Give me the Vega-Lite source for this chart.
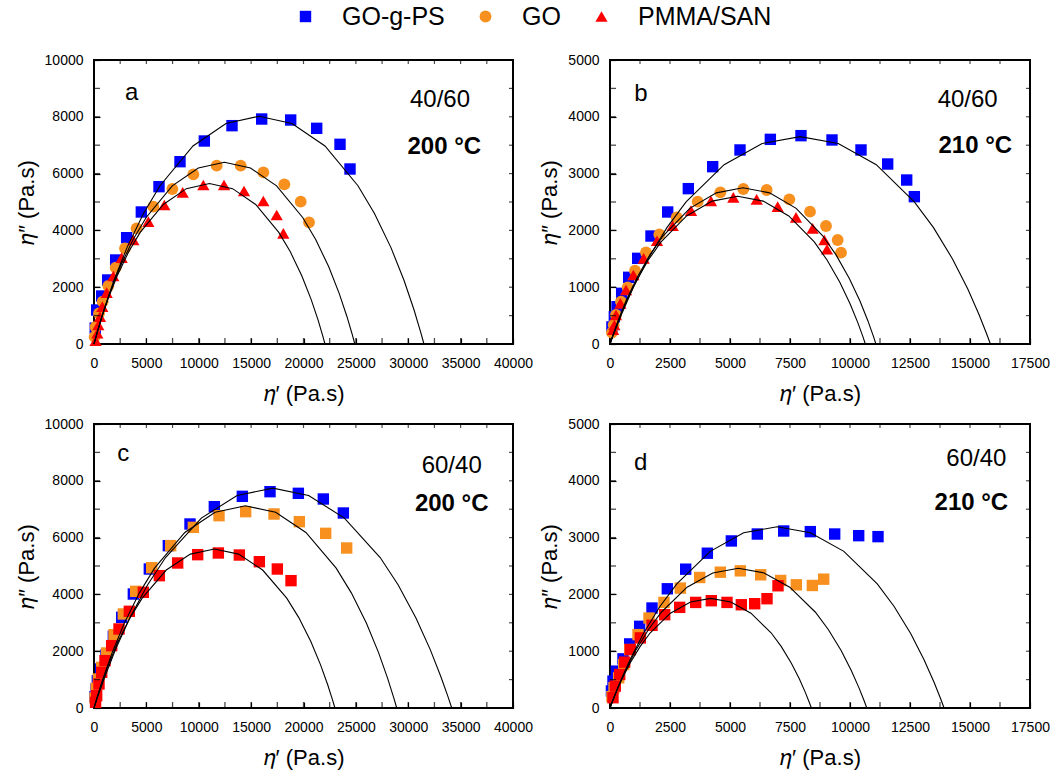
{
  "$schema": "https://vega.github.io/schema/vega-lite/v6.json",
  "autosize": {"type": "pad"},
  "padding": {"left": 14, "top": 4, "right": 5, "bottom": 5},
  "background": "white",
  "datasets": {
    "pts": [
      {"p":"a","s":"GO-g-PS","x":120,"y":560},{"p":"a","s":"GO-g-PS","x":255,"y":1197},{"p":"a","s":"GO-g-PS","x":733,"y":1690},{"p":"a","s":"GO-g-PS","x":1305,"y":2254},{"p":"a","s":"GO-g-PS","x":2068,"y":2958},{"p":"a","s":"GO-g-PS","x":3118,"y":3744},{"p":"a","s":"GO-g-PS","x":4518,"y":4648},{"p":"a","s":"GO-g-PS","x":6206,"y":5540},{"p":"a","s":"GO-g-PS","x":8210,"y":6420},{"p":"a","s":"GO-g-PS","x":10533,"y":7148},{"p":"a","s":"GO-g-PS","x":13175,"y":7688},{"p":"a","s":"GO-g-PS","x":16008,"y":7922},{"p":"a","s":"GO-g-PS","x":18776,"y":7887},{"p":"a","s":"GO-g-PS","x":21259,"y":7594},{"p":"a","s":"GO-g-PS","x":23486,"y":7031},{"p":"a","s":"GO-g-PS","x":24440,"y":6162},
      {"p":"a","s":"GO","x":60,"y":250},{"p":"a","s":"GO","x":153,"y":600},{"p":"a","s":"GO","x":477,"y":1080},{"p":"a","s":"GO","x":827,"y":1491},{"p":"a","s":"GO","x":1368,"y":2042},{"p":"a","s":"GO","x":2068,"y":2688},{"p":"a","s":"GO","x":2960,"y":3369},{"p":"a","s":"GO","x":4073,"y":4073},{"p":"a","s":"GO","x":5665,"y":4836},{"p":"a","s":"GO","x":7478,"y":5458},{"p":"a","s":"GO","x":9483,"y":5974},{"p":"a","s":"GO","x":11711,"y":6279},{"p":"a","s":"GO","x":14003,"y":6279},{"p":"a","s":"GO","x":16166,"y":6045},{"p":"a","s":"GO","x":18172,"y":5622},{"p":"a","s":"GO","x":19731,"y":5012},{"p":"a","s":"GO","x":20526,"y":4284},
      {"p":"a","s":"PMMA/SAN","x":150,"y":120},{"p":"a","s":"PMMA/SAN","x":318,"y":376},{"p":"a","s":"PMMA/SAN","x":414,"y":669},{"p":"a","s":"PMMA/SAN","x":573,"y":963},{"p":"a","s":"PMMA/SAN","x":795,"y":1315},{"p":"a","s":"PMMA/SAN","x":1209,"y":1808},{"p":"a","s":"PMMA/SAN","x":1846,"y":2394},{"p":"a","s":"PMMA/SAN","x":2641,"y":3040},{"p":"a","s":"PMMA/SAN","x":3755,"y":3662},{"p":"a","s":"PMMA/SAN","x":5188,"y":4308},{"p":"a","s":"PMMA/SAN","x":6714,"y":4894},{"p":"a","s":"PMMA/SAN","x":8465,"y":5340},{"p":"a","s":"PMMA/SAN","x":10437,"y":5599},{"p":"a","s":"PMMA/SAN","x":12411,"y":5599},{"p":"a","s":"PMMA/SAN","x":14320,"y":5387},{"p":"a","s":"PMMA/SAN","x":16166,"y":5035},{"p":"a","s":"PMMA/SAN","x":17440,"y":4542},{"p":"a","s":"PMMA/SAN","x":18075,"y":3897},
      {"p":"b","s":"GO-g-PS","x":80,"y":300},{"p":"b","s":"GO-g-PS","x":181,"y":481},{"p":"b","s":"GO-g-PS","x":292,"y":657},{"p":"b","s":"GO-g-PS","x":486,"y":892},{"p":"b","s":"GO-g-PS","x":778,"y":1174},{"p":"b","s":"GO-g-PS","x":1153,"y":1508},{"p":"b","s":"GO-g-PS","x":1708,"y":1901},{"p":"b","s":"GO-g-PS","x":2403,"y":2324},{"p":"b","s":"GO-g-PS","x":3264,"y":2735},{"p":"b","s":"GO-g-PS","x":4278,"y":3122},{"p":"b","s":"GO-g-PS","x":5417,"y":3416},{"p":"b","s":"GO-g-PS","x":6681,"y":3603},{"p":"b","s":"GO-g-PS","x":7958,"y":3668},{"p":"b","s":"GO-g-PS","x":9250,"y":3592},{"p":"b","s":"GO-g-PS","x":10458,"y":3416},{"p":"b","s":"GO-g-PS","x":11570,"y":3169},{"p":"b","s":"GO-g-PS","x":12362,"y":2887},{"p":"b","s":"GO-g-PS","x":12681,"y":2594},
      {"p":"b","s":"GO","x":80,"y":200},{"p":"b","s":"GO","x":153,"y":334},{"p":"b","s":"GO","x":250,"y":511},{"p":"b","s":"GO","x":458,"y":745},{"p":"b","s":"GO","x":736,"y":998},{"p":"b","s":"GO","x":1042,"y":1291},{"p":"b","s":"GO","x":1500,"y":1614},{"p":"b","s":"GO","x":2056,"y":1931},{"p":"b","s":"GO","x":2778,"y":2230},{"p":"b","s":"GO","x":3653,"y":2506},{"p":"b","s":"GO","x":4597,"y":2670},{"p":"b","s":"GO","x":5556,"y":2729},{"p":"b","s":"GO","x":6528,"y":2711},{"p":"b","s":"GO","x":7472,"y":2547},{"p":"b","s":"GO","x":8333,"y":2330},{"p":"b","s":"GO","x":9000,"y":2078},{"p":"b","s":"GO","x":9486,"y":1831},{"p":"b","s":"GO","x":9625,"y":1608},
      {"p":"b","s":"PMMA/SAN","x":130,"y":250},{"p":"b","s":"PMMA/SAN","x":181,"y":334},{"p":"b","s":"PMMA/SAN","x":250,"y":511},{"p":"b","s":"PMMA/SAN","x":431,"y":716},{"p":"b","s":"PMMA/SAN","x":667,"y":951},{"p":"b","s":"PMMA/SAN","x":972,"y":1215},{"p":"b","s":"PMMA/SAN","x":1403,"y":1508},{"p":"b","s":"PMMA/SAN","x":1958,"y":1819},{"p":"b","s":"PMMA/SAN","x":2611,"y":2083},{"p":"b","s":"PMMA/SAN","x":3375,"y":2348},{"p":"b","s":"PMMA/SAN","x":4208,"y":2518},{"p":"b","s":"PMMA/SAN","x":5139,"y":2582},{"p":"b","s":"PMMA/SAN","x":6111,"y":2547},{"p":"b","s":"PMMA/SAN","x":6986,"y":2418},{"p":"b","s":"PMMA/SAN","x":7750,"y":2230},{"p":"b","s":"PMMA/SAN","x":8444,"y":2036},{"p":"b","s":"PMMA/SAN","x":8931,"y":1831},{"p":"b","s":"PMMA/SAN","x":9042,"y":1667},
      {"p":"c","s":"GO-g-PS","x":100,"y":400},{"p":"c","s":"GO-g-PS","x":200,"y":669},{"p":"c","s":"GO-g-PS","x":318,"y":962},{"p":"c","s":"GO-g-PS","x":636,"y":1373},{"p":"c","s":"GO-g-PS","x":1146,"y":1866},{"p":"c","s":"GO-g-PS","x":1846,"y":2523},{"p":"c","s":"GO-g-PS","x":2641,"y":3193},{"p":"c","s":"GO-g-PS","x":3755,"y":4014},{"p":"c","s":"GO-g-PS","x":5282,"y":4894},{"p":"c","s":"GO-g-PS","x":7097,"y":5716},{"p":"c","s":"GO-g-PS","x":9165,"y":6479},{"p":"c","s":"GO-g-PS","x":11489,"y":7089},{"p":"c","s":"GO-g-PS","x":14161,"y":7453},{"p":"c","s":"GO-g-PS","x":16803,"y":7617},{"p":"c","s":"GO-g-PS","x":19508,"y":7559},{"p":"c","s":"GO-g-PS","x":21894,"y":7359},{"p":"c","s":"GO-g-PS","x":23804,"y":6866},
      {"p":"c","s":"GO","x":100,"y":350},{"p":"c","s":"GO","x":220,"y":692},{"p":"c","s":"GO","x":414,"y":1021},{"p":"c","s":"GO","x":733,"y":1432},{"p":"c","s":"GO","x":1209,"y":1937},{"p":"c","s":"GO","x":1909,"y":2582},{"p":"c","s":"GO","x":2800,"y":3310},{"p":"c","s":"GO","x":3978,"y":4108},{"p":"c","s":"GO","x":5506,"y":4941},{"p":"c","s":"GO","x":7319,"y":5716},{"p":"c","s":"GO","x":9483,"y":6361},{"p":"c","s":"GO","x":11934,"y":6772},{"p":"c","s":"GO","x":14479,"y":6913},{"p":"c","s":"GO","x":17185,"y":6831},{"p":"c","s":"GO","x":19603,"y":6561},{"p":"c","s":"GO","x":22118,"y":6150},{"p":"c","s":"GO","x":24122,"y":5634},
      {"p":"c","s":"PMMA/SAN","x":150,"y":200},{"p":"c","s":"PMMA/SAN","x":255,"y":434},{"p":"c","s":"PMMA/SAN","x":477,"y":845},{"p":"c","s":"PMMA/SAN","x":733,"y":1256},{"p":"c","s":"PMMA/SAN","x":1050,"y":1667},{"p":"c","s":"PMMA/SAN","x":1686,"y":2195},{"p":"c","s":"PMMA/SAN","x":2387,"y":2782},{"p":"c","s":"PMMA/SAN","x":3373,"y":3404},{"p":"c","s":"PMMA/SAN","x":4709,"y":4073},{"p":"c","s":"PMMA/SAN","x":6238,"y":4660},{"p":"c","s":"PMMA/SAN","x":7987,"y":5106},{"p":"c","s":"PMMA/SAN","x":9897,"y":5399},{"p":"c","s":"PMMA/SAN","x":11871,"y":5458},{"p":"c","s":"PMMA/SAN","x":13875,"y":5387},{"p":"c","s":"PMMA/SAN","x":15785,"y":5152},{"p":"c","s":"PMMA/SAN","x":17502,"y":4894},{"p":"c","s":"PMMA/SAN","x":18807,"y":4484},
      {"p":"d","s":"GO-g-PS","x":60,"y":300},{"p":"d","s":"GO-g-PS","x":125,"y":474},{"p":"d","s":"GO-g-PS","x":264,"y":649},{"p":"d","s":"GO-g-PS","x":542,"y":865},{"p":"d","s":"GO-g-PS","x":820,"y":1128},{"p":"d","s":"GO-g-PS","x":1236,"y":1438},{"p":"d","s":"GO-g-PS","x":1750,"y":1760},{"p":"d","s":"GO-g-PS","x":2389,"y":2099},{"p":"d","s":"GO-g-PS","x":3153,"y":2444},{"p":"d","s":"GO-g-PS","x":4056,"y":2725},{"p":"d","s":"GO-g-PS","x":5056,"y":2941},{"p":"d","s":"GO-g-PS","x":6139,"y":3063},{"p":"d","s":"GO-g-PS","x":7237,"y":3116},{"p":"d","s":"GO-g-PS","x":8347,"y":3105},{"p":"d","s":"GO-g-PS","x":9362,"y":3063},{"p":"d","s":"GO-g-PS","x":10362,"y":3034},{"p":"d","s":"GO-g-PS","x":11167,"y":3017},
      {"p":"d","s":"GO","x":80,"y":200},{"p":"d","s":"GO","x":167,"y":357},{"p":"d","s":"GO","x":361,"y":532},{"p":"d","s":"GO","x":570,"y":766},{"p":"d","s":"GO","x":820,"y":1029},{"p":"d","s":"GO","x":1167,"y":1292},{"p":"d","s":"GO","x":1625,"y":1584},{"p":"d","s":"GO","x":2250,"y":1859},{"p":"d","s":"GO","x":2931,"y":2111},{"p":"d","s":"GO","x":3736,"y":2298},{"p":"d","s":"GO","x":4597,"y":2391},{"p":"d","s":"GO","x":5431,"y":2415},{"p":"d","s":"GO","x":6278,"y":2345},{"p":"d","s":"GO","x":7112,"y":2245},{"p":"d","s":"GO","x":7764,"y":2169},{"p":"d","s":"GO","x":8431,"y":2157},{"p":"d","s":"GO","x":8903,"y":2268},
      {"p":"d","s":"PMMA/SAN","x":125,"y":181},{"p":"d","s":"PMMA/SAN","x":222,"y":386},{"p":"d","s":"PMMA/SAN","x":403,"y":590},{"p":"d","s":"PMMA/SAN","x":611,"y":807},{"p":"d","s":"PMMA/SAN","x":847,"y":1029},{"p":"d","s":"PMMA/SAN","x":1264,"y":1234},{"p":"d","s":"PMMA/SAN","x":1750,"y":1456},{"p":"d","s":"PMMA/SAN","x":2278,"y":1643},{"p":"d","s":"PMMA/SAN","x":2903,"y":1772},{"p":"d","s":"PMMA/SAN","x":3570,"y":1859},{"p":"d","s":"PMMA/SAN","x":4222,"y":1889},{"p":"d","s":"PMMA/SAN","x":4875,"y":1859},{"p":"d","s":"PMMA/SAN","x":5472,"y":1818},{"p":"d","s":"PMMA/SAN","x":6028,"y":1836},{"p":"d","s":"PMMA/SAN","x":6542,"y":1924},{"p":"d","s":"PMMA/SAN","x":7000,"y":2152}
    ],
    "fit": [
      {"p":"a","s":"GO-g-PS","x":0,"y":0},{"p":"a","s":"GO-g-PS","x":315,"y":420},{"p":"a","s":"GO-g-PS","x":945,"y":1197},{"p":"a","s":"GO-g-PS","x":1890,"y":2225},{"p":"a","s":"GO-g-PS","x":3150,"y":3394},{"p":"a","s":"GO-g-PS","x":4725,"y":4599},{"p":"a","s":"GO-g-PS","x":6300,"y":5574},{"p":"a","s":"GO-g-PS","x":9450,"y":6973},{"p":"a","s":"GO-g-PS","x":12600,"y":7763},{"p":"a","s":"GO-g-PS","x":15750,"y":8020},{"p":"a","s":"GO-g-PS","x":18900,"y":7763},{"p":"a","s":"GO-g-PS","x":22050,"y":6973},{"p":"a","s":"GO-g-PS","x":25200,"y":5574},{"p":"a","s":"GO-g-PS","x":26775,"y":4599},{"p":"a","s":"GO-g-PS","x":28350,"y":3394},{"p":"a","s":"GO-g-PS","x":29610,"y":2225},{"p":"a","s":"GO-g-PS","x":30555,"y":1197},{"p":"a","s":"GO-g-PS","x":31185,"y":420},{"p":"a","s":"GO-g-PS","x":31500,"y":0},
      {"p":"a","s":"GO","x":0,"y":0},{"p":"a","s":"GO","x":249,"y":337},{"p":"a","s":"GO","x":747,"y":961},{"p":"a","s":"GO","x":1494,"y":1784},{"p":"a","s":"GO","x":2490,"y":2718},{"p":"a","s":"GO","x":3735,"y":3678},{"p":"a","s":"GO","x":4980,"y":4455},{"p":"a","s":"GO","x":7470,"y":5568},{"p":"a","s":"GO","x":9960,"y":6196},{"p":"a","s":"GO","x":12450,"y":6400},{"p":"a","s":"GO","x":14940,"y":6196},{"p":"a","s":"GO","x":17430,"y":5568},{"p":"a","s":"GO","x":19920,"y":4455},{"p":"a","s":"GO","x":21165,"y":3678},{"p":"a","s":"GO","x":22410,"y":2718},{"p":"a","s":"GO","x":23406,"y":1784},{"p":"a","s":"GO","x":24153,"y":961},{"p":"a","s":"GO","x":24651,"y":337},{"p":"a","s":"GO","x":24900,"y":0},
      {"p":"a","s":"PMMA/SAN","x":0,"y":0},{"p":"a","s":"PMMA/SAN","x":220,"y":298},{"p":"a","s":"PMMA/SAN","x":662,"y":847},{"p":"a","s":"PMMA/SAN","x":1323,"y":1572},{"p":"a","s":"PMMA/SAN","x":2205,"y":2396},{"p":"a","s":"PMMA/SAN","x":3308,"y":3245},{"p":"a","s":"PMMA/SAN","x":4410,"y":3930},{"p":"a","s":"PMMA/SAN","x":6615,"y":4914},{"p":"a","s":"PMMA/SAN","x":8820,"y":5470},{"p":"a","s":"PMMA/SAN","x":11025,"y":5650},{"p":"a","s":"PMMA/SAN","x":13230,"y":5470},{"p":"a","s":"PMMA/SAN","x":15435,"y":4914},{"p":"a","s":"PMMA/SAN","x":17640,"y":3930},{"p":"a","s":"PMMA/SAN","x":18743,"y":3245},{"p":"a","s":"PMMA/SAN","x":19845,"y":2396},{"p":"a","s":"PMMA/SAN","x":20727,"y":1572},{"p":"a","s":"PMMA/SAN","x":21389,"y":847},{"p":"a","s":"PMMA/SAN","x":21830,"y":298},{"p":"a","s":"PMMA/SAN","x":22050,"y":0},
      {"p":"b","s":"GO-g-PS","x":0,"y":0},{"p":"b","s":"GO-g-PS","x":159,"y":181},{"p":"b","s":"GO-g-PS","x":476,"y":520},{"p":"b","s":"GO-g-PS","x":951,"y":976},{"p":"b","s":"GO-g-PS","x":1585,"y":1502},{"p":"b","s":"GO-g-PS","x":2378,"y":2053},{"p":"b","s":"GO-g-PS","x":3170,"y":2503},{"p":"b","s":"GO-g-PS","x":4755,"y":3157},{"p":"b","s":"GO-g-PS","x":6340,"y":3529},{"p":"b","s":"GO-g-PS","x":7925,"y":3650},{"p":"b","s":"GO-g-PS","x":9510,"y":3529},{"p":"b","s":"GO-g-PS","x":11095,"y":3157},{"p":"b","s":"GO-g-PS","x":12680,"y":2503},{"p":"b","s":"GO-g-PS","x":13473,"y":2053},{"p":"b","s":"GO-g-PS","x":14265,"y":1502},{"p":"b","s":"GO-g-PS","x":14899,"y":976},{"p":"b","s":"GO-g-PS","x":15375,"y":520},{"p":"b","s":"GO-g-PS","x":15692,"y":181},{"p":"b","s":"GO-g-PS","x":15850,"y":0},
      {"p":"b","s":"GO","x":0,"y":0},{"p":"b","s":"GO","x":111,"y":142},{"p":"b","s":"GO","x":332,"y":406},{"p":"b","s":"GO","x":665,"y":756},{"p":"b","s":"GO","x":1108,"y":1155},{"p":"b","s":"GO","x":1662,"y":1569},{"p":"b","s":"GO","x":2216,"y":1905},{"p":"b","s":"GO","x":3324,"y":2388},{"p":"b","s":"GO","x":4432,"y":2661},{"p":"b","s":"GO","x":5540,"y":2750},{"p":"b","s":"GO","x":6648,"y":2661},{"p":"b","s":"GO","x":7756,"y":2388},{"p":"b","s":"GO","x":8864,"y":1905},{"p":"b","s":"GO","x":9418,"y":1569},{"p":"b","s":"GO","x":9972,"y":1155},{"p":"b","s":"GO","x":10415,"y":756},{"p":"b","s":"GO","x":10748,"y":406},{"p":"b","s":"GO","x":10969,"y":142},{"p":"b","s":"GO","x":11080,"y":0},
      {"p":"b","s":"PMMA/SAN","x":0,"y":0},{"p":"b","s":"PMMA/SAN","x":106,"y":134},{"p":"b","s":"PMMA/SAN","x":319,"y":380},{"p":"b","s":"PMMA/SAN","x":638,"y":710},{"p":"b","s":"PMMA/SAN","x":1064,"y":1087},{"p":"b","s":"PMMA/SAN","x":1596,"y":1478},{"p":"b","s":"PMMA/SAN","x":2128,"y":1797},{"p":"b","s":"PMMA/SAN","x":3192,"y":2255},{"p":"b","s":"PMMA/SAN","x":4256,"y":2515},{"p":"b","s":"PMMA/SAN","x":5320,"y":2600},{"p":"b","s":"PMMA/SAN","x":6384,"y":2515},{"p":"b","s":"PMMA/SAN","x":7448,"y":2255},{"p":"b","s":"PMMA/SAN","x":8512,"y":1797},{"p":"b","s":"PMMA/SAN","x":9044,"y":1478},{"p":"b","s":"PMMA/SAN","x":9576,"y":1087},{"p":"b","s":"PMMA/SAN","x":10002,"y":710},{"p":"b","s":"PMMA/SAN","x":10321,"y":380},{"p":"b","s":"PMMA/SAN","x":10534,"y":134},{"p":"b","s":"PMMA/SAN","x":10640,"y":0},
      {"p":"c","s":"GO-g-PS","x":0,"y":0},{"p":"c","s":"GO-g-PS","x":342,"y":381},{"p":"c","s":"GO-g-PS","x":1025,"y":1093},{"p":"c","s":"GO-g-PS","x":2049,"y":2056},{"p":"c","s":"GO-g-PS","x":3415,"y":3171},{"p":"c","s":"GO-g-PS","x":5123,"y":4339},{"p":"c","s":"GO-g-PS","x":6830,"y":5297},{"p":"c","s":"GO-g-PS","x":10245,"y":6688},{"p":"c","s":"GO-g-PS","x":13660,"y":7482},{"p":"c","s":"GO-g-PS","x":17075,"y":7740},{"p":"c","s":"GO-g-PS","x":20490,"y":7482},{"p":"c","s":"GO-g-PS","x":23905,"y":6688},{"p":"c","s":"GO-g-PS","x":27320,"y":5297},{"p":"c","s":"GO-g-PS","x":29028,"y":4339},{"p":"c","s":"GO-g-PS","x":30735,"y":3171},{"p":"c","s":"GO-g-PS","x":32101,"y":2056},{"p":"c","s":"GO-g-PS","x":33126,"y":1093},{"p":"c","s":"GO-g-PS","x":33809,"y":381},{"p":"c","s":"GO-g-PS","x":34150,"y":0},
      {"p":"c","s":"GO","x":0,"y":0},{"p":"c","s":"GO","x":289,"y":366},{"p":"c","s":"GO","x":867,"y":1045},{"p":"c","s":"GO","x":1734,"y":1949},{"p":"c","s":"GO","x":2890,"y":2984},{"p":"c","s":"GO","x":4335,"y":4055},{"p":"c","s":"GO","x":5780,"y":4925},{"p":"c","s":"GO","x":8670,"y":6179},{"p":"c","s":"GO","x":11560,"y":6890},{"p":"c","s":"GO","x":14450,"y":7120},{"p":"c","s":"GO","x":17340,"y":6890},{"p":"c","s":"GO","x":20230,"y":6179},{"p":"c","s":"GO","x":23120,"y":4925},{"p":"c","s":"GO","x":24565,"y":4055},{"p":"c","s":"GO","x":26010,"y":2984},{"p":"c","s":"GO","x":27166,"y":1949},{"p":"c","s":"GO","x":28033,"y":1045},{"p":"c","s":"GO","x":28611,"y":366},{"p":"c","s":"GO","x":28900,"y":0},
      {"p":"c","s":"PMMA/SAN","x":0,"y":0},{"p":"c","s":"PMMA/SAN","x":230,"y":288},{"p":"c","s":"PMMA/SAN","x":690,"y":819},{"p":"c","s":"PMMA/SAN","x":1380,"y":1527},{"p":"c","s":"PMMA/SAN","x":2300,"y":2340},{"p":"c","s":"PMMA/SAN","x":3450,"y":3183},{"p":"c","s":"PMMA/SAN","x":4600,"y":3869},{"p":"c","s":"PMMA/SAN","x":6900,"y":4858},{"p":"c","s":"PMMA/SAN","x":9200,"y":5419},{"p":"c","s":"PMMA/SAN","x":11500,"y":5600},{"p":"c","s":"PMMA/SAN","x":13800,"y":5419},{"p":"c","s":"PMMA/SAN","x":16100,"y":4858},{"p":"c","s":"PMMA/SAN","x":18400,"y":3869},{"p":"c","s":"PMMA/SAN","x":19550,"y":3183},{"p":"c","s":"PMMA/SAN","x":20700,"y":2340},{"p":"c","s":"PMMA/SAN","x":21620,"y":1527},{"p":"c","s":"PMMA/SAN","x":22310,"y":819},{"p":"c","s":"PMMA/SAN","x":22770,"y":288},{"p":"c","s":"PMMA/SAN","x":23000,"y":0},
      {"p":"d","s":"GO-g-PS","x":0,"y":0},{"p":"d","s":"GO-g-PS","x":139,"y":158},{"p":"d","s":"GO-g-PS","x":418,"y":453},{"p":"d","s":"GO-g-PS","x":835,"y":851},{"p":"d","s":"GO-g-PS","x":1392,"y":1311},{"p":"d","s":"GO-g-PS","x":2088,"y":1792},{"p":"d","s":"GO-g-PS","x":2784,"y":2186},{"p":"d","s":"GO-g-PS","x":4176,"y":2758},{"p":"d","s":"GO-g-PS","x":5568,"y":3084},{"p":"d","s":"GO-g-PS","x":6960,"y":3190},{"p":"d","s":"GO-g-PS","x":8352,"y":3084},{"p":"d","s":"GO-g-PS","x":9744,"y":2758},{"p":"d","s":"GO-g-PS","x":11136,"y":2186},{"p":"d","s":"GO-g-PS","x":11832,"y":1792},{"p":"d","s":"GO-g-PS","x":12528,"y":1311},{"p":"d","s":"GO-g-PS","x":13085,"y":851},{"p":"d","s":"GO-g-PS","x":13502,"y":453},{"p":"d","s":"GO-g-PS","x":13781,"y":158},{"p":"d","s":"GO-g-PS","x":13920,"y":0},
      {"p":"d","s":"GO","x":0,"y":0},{"p":"d","s":"GO","x":107,"y":122},{"p":"d","s":"GO","x":321,"y":350},{"p":"d","s":"GO","x":642,"y":657},{"p":"d","s":"GO","x":1070,"y":1012},{"p":"d","s":"GO","x":1605,"y":1382},{"p":"d","s":"GO","x":2140,"y":1686},{"p":"d","s":"GO","x":3210,"y":2127},{"p":"d","s":"GO","x":4280,"y":2378},{"p":"d","s":"GO","x":5350,"y":2460},{"p":"d","s":"GO","x":6420,"y":2378},{"p":"d","s":"GO","x":7490,"y":2127},{"p":"d","s":"GO","x":8560,"y":1686},{"p":"d","s":"GO","x":9095,"y":1382},{"p":"d","s":"GO","x":9630,"y":1012},{"p":"d","s":"GO","x":10058,"y":657},{"p":"d","s":"GO","x":10379,"y":350},{"p":"d","s":"GO","x":10593,"y":122},{"p":"d","s":"GO","x":10700,"y":0},
      {"p":"d","s":"PMMA/SAN","x":0,"y":0},{"p":"d","s":"PMMA/SAN","x":84,"y":96},{"p":"d","s":"PMMA/SAN","x":252,"y":275},{"p":"d","s":"PMMA/SAN","x":503,"y":516},{"p":"d","s":"PMMA/SAN","x":839,"y":794},{"p":"d","s":"PMMA/SAN","x":1259,"y":1085},{"p":"d","s":"PMMA/SAN","x":1678,"y":1324},{"p":"d","s":"PMMA/SAN","x":2517,"y":1669},{"p":"d","s":"PMMA/SAN","x":3356,"y":1866},{"p":"d","s":"PMMA/SAN","x":4195,"y":1930},{"p":"d","s":"PMMA/SAN","x":5034,"y":1866},{"p":"d","s":"PMMA/SAN","x":5873,"y":1669},{"p":"d","s":"PMMA/SAN","x":6712,"y":1324},{"p":"d","s":"PMMA/SAN","x":7132,"y":1085},{"p":"d","s":"PMMA/SAN","x":7551,"y":794},{"p":"d","s":"PMMA/SAN","x":7887,"y":516},{"p":"d","s":"PMMA/SAN","x":8138,"y":275},{"p":"d","s":"PMMA/SAN","x":8306,"y":96},{"p":"d","s":"PMMA/SAN","x":8390,"y":0}
    ],
    "ann": [
      {"p":"a","k":"id","t":"a","x":3600,"y":8827},{"p":"a","k":"ratio","t":"40/60","x":33032,"y":8591},{"p":"a","k":"temp","t":"200 °C","x":33443,"y":6947},
      {"p":"b","k":"id","t":"b","x":1292,"y":4396},{"p":"b","k":"ratio","t":"40/60","x":14903,"y":4296},{"p":"b","k":"temp","t":"210 °C","x":15222,"y":3492},
      {"p":"c","k":"id","t":"c","x":2800,"y":8943},{"p":"c","k":"ratio","t":"60/40","x":34148,"y":8532},{"p":"c","k":"temp","t":"200 °C","x":34148,"y":7183},
      {"p":"d","k":"id","t":"d","x":1278,"y":4315},{"p":"d","k":"ratio","t":"60/40","x":15265,"y":4379},{"p":"d","k":"temp","t":"210 °C","x":15057,"y":3602}
    ],
    "tk": [
      {"g":"w","ax":"x","v":2500},{"g":"w","ax":"x","v":5000},{"g":"w","ax":"x","v":7500},{"g":"w","ax":"x","v":10000},{"g":"w","ax":"x","v":12500},{"g":"w","ax":"x","v":15000},{"g":"w","ax":"x","v":17500},{"g":"w","ax":"x","v":20000},{"g":"w","ax":"x","v":22500},{"g":"w","ax":"x","v":25000},{"g":"w","ax":"x","v":27500},{"g":"w","ax":"x","v":30000},{"g":"w","ax":"x","v":32500},{"g":"w","ax":"x","v":35000},{"g":"w","ax":"x","v":37500},
      {"g":"w","ax":"y","v":1000},{"g":"w","ax":"y","v":2000},{"g":"w","ax":"y","v":3000},{"g":"w","ax":"y","v":4000},{"g":"w","ax":"y","v":5000},{"g":"w","ax":"y","v":6000},{"g":"w","ax":"y","v":7000},{"g":"w","ax":"y","v":8000},{"g":"w","ax":"y","v":9000},
      {"g":"n","ax":"x","v":1250},{"g":"n","ax":"x","v":2500},{"g":"n","ax":"x","v":3750},{"g":"n","ax":"x","v":5000},{"g":"n","ax":"x","v":6250},{"g":"n","ax":"x","v":7500},{"g":"n","ax":"x","v":8750},{"g":"n","ax":"x","v":10000},{"g":"n","ax":"x","v":11250},{"g":"n","ax":"x","v":12500},{"g":"n","ax":"x","v":13750},{"g":"n","ax":"x","v":15000},{"g":"n","ax":"x","v":16250},
      {"g":"n","ax":"y","v":500},{"g":"n","ax":"y","v":1000},{"g":"n","ax":"y","v":1500},{"g":"n","ax":"y","v":2000},{"g":"n","ax":"y","v":2500},{"g":"n","ax":"y","v":3000},{"g":"n","ax":"y","v":3500},{"g":"n","ax":"y","v":4000},{"g":"n","ax":"y","v":4500}
    ]
  },
  "columns": 2,
  "spacing": {"row": 11, "column": 3},
  "concat": [
    {
      "width": 419, "height": 284,
      "resolve": {"axis": {"x": "independent", "y": "independent"}},
      "layer": [
        {"data": {"name": "pts"}, "transform": [{"filter": "datum.p === 'a'"}],
         "mark": {"type": "point", "filled": true, "opacity": 1},
         "encoding": {
           "x": {"field": "x", "type": "quantitative", "scale": {"domain": [0, 40000], "nice": false},
                 "axis": {"orient": "bottom", "values": [0,5000,10000,15000,20000,25000,30000,35000,40000], "format": "d", "title": "𝜂′ (Pa.s)"}},
           "y": {"field": "y", "type": "quantitative", "scale": {"domain": [0, 10000], "nice": false},
                 "axis": {"orient": "left", "values": [0,2000,4000,6000,8000,10000], "format": "d", "title": "𝜂″ (Pa.s)"}},
           "color": {"field": "s", "type": "nominal", "scale": {"domain": ["GO-g-PS", "GO", "PMMA/SAN"], "range": ["#0000ff", "#f7901e", "#ff0000"]},
                     "legend": {"orient": "none", "legendX": 199, "legendY": -56, "direction": "horizontal", "title": null}},
           "shape": {"field": "s", "type": "nominal", "scale": {"domain": ["GO-g-PS", "GO", "PMMA/SAN"], "range": ["square", "circle", "triangle-up"]},
                     "legend": {"orient": "none", "legendX": 199, "legendY": -56, "direction": "horizontal", "title": null}},
           "size": {"field": "s", "type": "ordinal", "scale": {"domain": ["GO-g-PS", "GO", "PMMA/SAN"], "range": [130, 150, 200]}, "legend": null}
         }},
        {"data": {"name": "fit"}, "transform": [{"filter": "datum.p === 'a'"}],
         "mark": {"type": "line", "color": "black", "strokeWidth": 1.1},
         "encoding": {"x": {"field": "x", "type": "quantitative", "axis": null}, "y": {"field": "y", "type": "quantitative", "axis": null}, "detail": {"field": "s"}}},
        {"data": {"name": "tk"}, "transform": [{"filter": "datum.g === 'w' && datum.ax === 'x'"}],
         "mark": {"type": "tick", "orient": "vertical", "color": "black", "thickness": 1.3, "size": 6, "yOffset": -3},
         "encoding": {"x": {"field": "v", "type": "quantitative", "axis": null}, "y": {"datum": 0, "type": "quantitative", "axis": null}}},
        {"data": {"name": "tk"}, "transform": [{"filter": "datum.g === 'w' && datum.ax === 'x'"}],
         "mark": {"type": "tick", "orient": "vertical", "color": "black", "thickness": 1.2, "size": 4, "yOffset": 2},
         "encoding": {"x": {"field": "v", "type": "quantitative", "axis": null}, "y": {"datum": 10000, "type": "quantitative", "axis": null}}},
        {"data": {"name": "tk"}, "transform": [{"filter": "datum.g === 'w' && datum.ax === 'y'"}],
         "mark": {"type": "tick", "orient": "horizontal", "color": "black", "thickness": 1.3, "size": 6, "xOffset": 3},
         "encoding": {"y": {"field": "v", "type": "quantitative", "axis": null}, "x": {"datum": 0, "type": "quantitative", "axis": null}}},
        {"data": {"name": "tk"}, "transform": [{"filter": "datum.g === 'w' && datum.ax === 'y'"}],
         "mark": {"type": "tick", "orient": "horizontal", "color": "black", "thickness": 1.2, "size": 4, "xOffset": -2},
         "encoding": {"y": {"field": "v", "type": "quantitative", "axis": null}, "x": {"datum": 40000, "type": "quantitative", "axis": null}}},
        {"data": {"name": "ann"}, "transform": [{"filter": "datum.p === 'a' && datum.k !== 'temp'"}],
         "mark": {"type": "text", "fontSize": 24, "font": "Liberation Sans", "color": "black"},
         "encoding": {"x": {"field": "x", "type": "quantitative", "axis": null}, "y": {"field": "y", "type": "quantitative", "axis": null}, "text": {"field": "t"}}},
        {"data": {"name": "ann"}, "transform": [{"filter": "datum.p === 'a' && datum.k === 'temp'"}],
         "mark": {"type": "text", "fontSize": 24, "fontWeight": "bold", "font": "Liberation Sans", "color": "black"},
         "encoding": {"x": {"field": "x", "type": "quantitative", "axis": null}, "y": {"field": "y", "type": "quantitative", "axis": null}, "text": {"field": "t"}}}
      ]
    },
    {
      "width": 420, "height": 284,
      "resolve": {"axis": {"x": "independent", "y": "independent"}},
      "layer": [
        {"data": {"name": "pts"}, "transform": [{"filter": "datum.p === 'b'"}],
         "mark": {"type": "point", "filled": true, "opacity": 1},
         "encoding": {
           "x": {"field": "x", "type": "quantitative", "scale": {"domain": [0, 17500], "nice": false},
                 "axis": {"orient": "bottom", "values": [0,2500,5000,7500,10000,12500,15000,17500], "format": "d", "title": "𝜂′ (Pa.s)"}},
           "y": {"field": "y", "type": "quantitative", "scale": {"domain": [0, 5000], "nice": false},
                 "axis": {"orient": "left", "values": [0,1000,2000,3000,4000,5000], "format": "d", "title": "𝜂″ (Pa.s)"}},
           "color": {"field": "s", "type": "nominal", "legend": null},
           "shape": {"field": "s", "type": "nominal", "legend": null},
           "size": {"field": "s", "type": "ordinal", "legend": null}
         }},
        {"data": {"name": "fit"}, "transform": [{"filter": "datum.p === 'b'"}],
         "mark": {"type": "line", "color": "black", "strokeWidth": 1.1},
         "encoding": {"x": {"field": "x", "type": "quantitative", "axis": null}, "y": {"field": "y", "type": "quantitative", "axis": null}, "detail": {"field": "s"}}},
        {"data": {"name": "tk"}, "transform": [{"filter": "datum.g === 'n' && datum.ax === 'x'"}],
         "mark": {"type": "tick", "orient": "vertical", "color": "black", "thickness": 1.3, "size": 6, "yOffset": -3},
         "encoding": {"x": {"field": "v", "type": "quantitative", "axis": null}, "y": {"datum": 0, "type": "quantitative", "axis": null}}},
        {"data": {"name": "tk"}, "transform": [{"filter": "datum.g === 'n' && datum.ax === 'x'"}],
         "mark": {"type": "tick", "orient": "vertical", "color": "black", "thickness": 1.2, "size": 4, "yOffset": 2},
         "encoding": {"x": {"field": "v", "type": "quantitative", "axis": null}, "y": {"datum": 5000, "type": "quantitative", "axis": null}}},
        {"data": {"name": "tk"}, "transform": [{"filter": "datum.g === 'n' && datum.ax === 'y'"}],
         "mark": {"type": "tick", "orient": "horizontal", "color": "black", "thickness": 1.3, "size": 6, "xOffset": 3},
         "encoding": {"y": {"field": "v", "type": "quantitative", "axis": null}, "x": {"datum": 0, "type": "quantitative", "axis": null}}},
        {"data": {"name": "tk"}, "transform": [{"filter": "datum.g === 'n' && datum.ax === 'y'"}],
         "mark": {"type": "tick", "orient": "horizontal", "color": "black", "thickness": 1.2, "size": 4, "xOffset": -2},
         "encoding": {"y": {"field": "v", "type": "quantitative", "axis": null}, "x": {"datum": 17500, "type": "quantitative", "axis": null}}},
        {"data": {"name": "ann"}, "transform": [{"filter": "datum.p === 'b' && datum.k !== 'temp'"}],
         "mark": {"type": "text", "fontSize": 24, "font": "Liberation Sans", "color": "black"},
         "encoding": {"x": {"field": "x", "type": "quantitative", "axis": null}, "y": {"field": "y", "type": "quantitative", "axis": null}, "text": {"field": "t"}}},
        {"data": {"name": "ann"}, "transform": [{"filter": "datum.p === 'b' && datum.k === 'temp'"}],
         "mark": {"type": "text", "fontSize": 24, "fontWeight": "bold", "font": "Liberation Sans", "color": "black"},
         "encoding": {"x": {"field": "x", "type": "quantitative", "axis": null}, "y": {"field": "y", "type": "quantitative", "axis": null}, "text": {"field": "t"}}}
      ]
    },
    {
      "width": 419, "height": 284,
      "resolve": {"axis": {"x": "independent", "y": "independent"}},
      "layer": [
        {"data": {"name": "pts"}, "transform": [{"filter": "datum.p === 'c'"}],
         "mark": {"type": "square", "opacity": 1, "size": 130},
         "encoding": {
           "x": {"field": "x", "type": "quantitative", "scale": {"domain": [0, 40000], "nice": false},
                 "axis": {"orient": "bottom", "values": [0,5000,10000,15000,20000,25000,30000,35000,40000], "format": "d", "title": "𝜂′ (Pa.s)"}},
           "y": {"field": "y", "type": "quantitative", "scale": {"domain": [0, 10000], "nice": false},
                 "axis": {"orient": "left", "values": [0,2000,4000,6000,8000,10000], "format": "d", "title": "𝜂″ (Pa.s)"}},
           "color": {"field": "s", "type": "nominal", "legend": null}
         }},
        {"data": {"name": "fit"}, "transform": [{"filter": "datum.p === 'c'"}],
         "mark": {"type": "line", "color": "black", "strokeWidth": 1.1},
         "encoding": {"x": {"field": "x", "type": "quantitative", "axis": null}, "y": {"field": "y", "type": "quantitative", "axis": null}, "detail": {"field": "s"}}},
        {"data": {"name": "tk"}, "transform": [{"filter": "datum.g === 'w' && datum.ax === 'x'"}],
         "mark": {"type": "tick", "orient": "vertical", "color": "black", "thickness": 1.3, "size": 6, "yOffset": -3},
         "encoding": {"x": {"field": "v", "type": "quantitative", "axis": null}, "y": {"datum": 0, "type": "quantitative", "axis": null}}},
        {"data": {"name": "tk"}, "transform": [{"filter": "datum.g === 'w' && datum.ax === 'x'"}],
         "mark": {"type": "tick", "orient": "vertical", "color": "black", "thickness": 1.2, "size": 4, "yOffset": 2},
         "encoding": {"x": {"field": "v", "type": "quantitative", "axis": null}, "y": {"datum": 10000, "type": "quantitative", "axis": null}}},
        {"data": {"name": "tk"}, "transform": [{"filter": "datum.g === 'w' && datum.ax === 'y'"}],
         "mark": {"type": "tick", "orient": "horizontal", "color": "black", "thickness": 1.3, "size": 6, "xOffset": 3},
         "encoding": {"y": {"field": "v", "type": "quantitative", "axis": null}, "x": {"datum": 0, "type": "quantitative", "axis": null}}},
        {"data": {"name": "tk"}, "transform": [{"filter": "datum.g === 'w' && datum.ax === 'y'"}],
         "mark": {"type": "tick", "orient": "horizontal", "color": "black", "thickness": 1.2, "size": 4, "xOffset": -2},
         "encoding": {"y": {"field": "v", "type": "quantitative", "axis": null}, "x": {"datum": 40000, "type": "quantitative", "axis": null}}},
        {"data": {"name": "ann"}, "transform": [{"filter": "datum.p === 'c' && datum.k !== 'temp'"}],
         "mark": {"type": "text", "fontSize": 24, "font": "Liberation Sans", "color": "black"},
         "encoding": {"x": {"field": "x", "type": "quantitative", "axis": null}, "y": {"field": "y", "type": "quantitative", "axis": null}, "text": {"field": "t"}}},
        {"data": {"name": "ann"}, "transform": [{"filter": "datum.p === 'c' && datum.k === 'temp'"}],
         "mark": {"type": "text", "fontSize": 24, "fontWeight": "bold", "font": "Liberation Sans", "color": "black"},
         "encoding": {"x": {"field": "x", "type": "quantitative", "axis": null}, "y": {"field": "y", "type": "quantitative", "axis": null}, "text": {"field": "t"}}}
      ]
    },
    {
      "width": 420, "height": 284,
      "resolve": {"axis": {"x": "independent", "y": "independent"}},
      "layer": [
        {"data": {"name": "pts"}, "transform": [{"filter": "datum.p === 'd'"}],
         "mark": {"type": "square", "opacity": 1, "size": 130},
         "encoding": {
           "x": {"field": "x", "type": "quantitative", "scale": {"domain": [0, 17500], "nice": false},
                 "axis": {"orient": "bottom", "values": [0,2500,5000,7500,10000,12500,15000,17500], "format": "d", "title": "𝜂′ (Pa.s)"}},
           "y": {"field": "y", "type": "quantitative", "scale": {"domain": [0, 5000], "nice": false},
                 "axis": {"orient": "left", "values": [0,1000,2000,3000,4000,5000], "format": "d", "title": "𝜂″ (Pa.s)"}},
           "color": {"field": "s", "type": "nominal", "legend": null}
         }},
        {"data": {"name": "fit"}, "transform": [{"filter": "datum.p === 'd'"}],
         "mark": {"type": "line", "color": "black", "strokeWidth": 1.1},
         "encoding": {"x": {"field": "x", "type": "quantitative", "axis": null}, "y": {"field": "y", "type": "quantitative", "axis": null}, "detail": {"field": "s"}}},
        {"data": {"name": "tk"}, "transform": [{"filter": "datum.g === 'n' && datum.ax === 'x'"}],
         "mark": {"type": "tick", "orient": "vertical", "color": "black", "thickness": 1.3, "size": 6, "yOffset": -3},
         "encoding": {"x": {"field": "v", "type": "quantitative", "axis": null}, "y": {"datum": 0, "type": "quantitative", "axis": null}}},
        {"data": {"name": "tk"}, "transform": [{"filter": "datum.g === 'n' && datum.ax === 'x'"}],
         "mark": {"type": "tick", "orient": "vertical", "color": "black", "thickness": 1.2, "size": 4, "yOffset": 2},
         "encoding": {"x": {"field": "v", "type": "quantitative", "axis": null}, "y": {"datum": 5000, "type": "quantitative", "axis": null}}},
        {"data": {"name": "tk"}, "transform": [{"filter": "datum.g === 'n' && datum.ax === 'y'"}],
         "mark": {"type": "tick", "orient": "horizontal", "color": "black", "thickness": 1.3, "size": 6, "xOffset": 3},
         "encoding": {"y": {"field": "v", "type": "quantitative", "axis": null}, "x": {"datum": 0, "type": "quantitative", "axis": null}}},
        {"data": {"name": "tk"}, "transform": [{"filter": "datum.g === 'n' && datum.ax === 'y'"}],
         "mark": {"type": "tick", "orient": "horizontal", "color": "black", "thickness": 1.2, "size": 4, "xOffset": -2},
         "encoding": {"y": {"field": "v", "type": "quantitative", "axis": null}, "x": {"datum": 17500, "type": "quantitative", "axis": null}}},
        {"data": {"name": "ann"}, "transform": [{"filter": "datum.p === 'd' && datum.k !== 'temp'"}],
         "mark": {"type": "text", "fontSize": 24, "font": "Liberation Sans", "color": "black"},
         "encoding": {"x": {"field": "x", "type": "quantitative", "axis": null}, "y": {"field": "y", "type": "quantitative", "axis": null}, "text": {"field": "t"}}},
        {"data": {"name": "ann"}, "transform": [{"filter": "datum.p === 'd' && datum.k === 'temp'"}],
         "mark": {"type": "text", "fontSize": 24, "fontWeight": "bold", "font": "Liberation Sans", "color": "black"},
         "encoding": {"x": {"field": "x", "type": "quantitative", "axis": null}, "y": {"field": "y", "type": "quantitative", "axis": null}, "text": {"field": "t"}}}
      ]
    }
  ],
  "config": {
    "view": {"stroke": "black", "strokeWidth": 2},
    "axis": {"domain": false, "grid": false, "ticks": true, "labelFont": "Liberation Sans", "labelFontSize": 14, "labelColor": "black", "labelFlush": false, "labelOverlap": false, "tickColor": "black", "tickSize": 6, "offset": -6, "tickWidth": 1.2, "titleFont": "Liberation Sans", "titleFontSize": 22, "titleFontWeight": "normal", "titleColor": "black"},
    "axisX": {"labelPadding": 12, "titlePadding": 13},
    "axisY": {"labelPadding": 11, "titlePadding": 6},
    "legend": {"labelFont": "Liberation Sans", "labelFontSize": 25, "labelColor": "black", "symbolSize": 170, "labelOffset": 24, "columnPadding": 28, "symbolStrokeWidth": 0, "gridAlign": "none"}
  }
}
